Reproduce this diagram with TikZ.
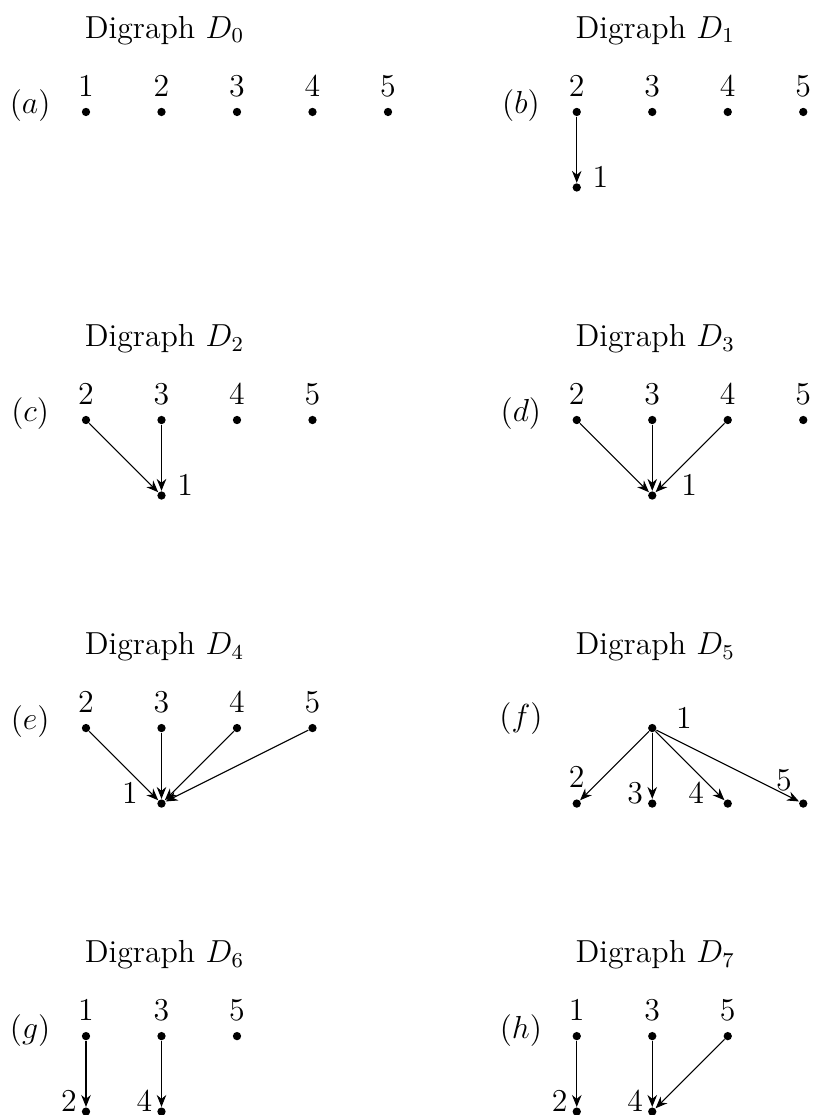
\documentclass[tikz,border=0pt,12pt]{standalone}
\usetikzlibrary{arrows.meta}
\begin{document}
\begin{tikzpicture}[
        vert/.style={circle, fill, inner sep=0pt, minimum size=0.11cm},
        up/.style={label={above:$#1$}},
        rt/.style 2 args={label={[anchor=base west, label distance=#2]right:$#1$}},
        lf/.style 2 args={label={[anchor=base east, label distance=#2]left:$#1$}},
        upl/.style={label={[label distance=-1pt]100:$#1$}},
        arc/.style={draw, -{Stealth[length=4.5pt, width=3.6pt]}},
        title/.style={anchor=center},
        tag/.style={anchor=center},
    ]
    \useasboundingbox (-1.139,-13.285) rectangle (9.642,1.483);

    % (a) digraph D_0
    \node[title] (ta) at (1.04,1.08) {Digraph $D_0$};
    \node[tag] (la) at (-0.74,0.08) {$(a)$};
    \node[vert, up=1] (a1) at (0,0) {};
    \node[vert, up=2] (a2) at (1,0) {};
    \node[vert, up=3] (a3) at (2,0) {};
    \node[vert, up=4] (a4) at (3,0) {};
    \node[vert, up=5] (a5) at (4,0) {};

    % (b) digraph D_1
    \node[title] (tb) at (7.54,1.08) {Digraph $D_1$};
    \node[tag] (lb) at (5.76,0.08) {$(b)$};
    \node[vert, up=2] (b2) at (6.5,0) {};
    \node[vert, up=3] (b3) at (7.5,0) {};
    \node[vert, up=4] (b4) at (8.5,0) {};
    \node[vert, up=5] (b5) at (9.5,0) {};
    \node[vert, rt={1}{0pt}] (b1) at (6.5,-1) {};
    \draw[arc] (b2) -- (b1);

    % (c) digraph D_2
    \node[title] (tc) at (1.04,-3.0) {Digraph $D_2$};
    \node[tag] (lc) at (-0.74,-4.0) {$(c)$};
    \node[vert, up=2] (c2) at (0,-4.08) {};
    \node[vert, up=3] (c3) at (1,-4.08) {};
    \node[vert, up=4] (c4) at (2,-4.08) {};
    \node[vert, up=5] (c5) at (3,-4.08) {};
    \node[vert, rt={1}{0pt}] (c1) at (1,-5.08) {};
    \draw[arc] (c2) -- (c1);
    \draw[arc] (c3) -- (c1);

    % (d) digraph D_3
    \node[title] (td) at (7.54,-3.0) {Digraph $D_3$};
    \node[tag] (ld) at (5.76,-4.0) {$(d)$};
    \node[vert, up=2] (d2) at (6.5,-4.08) {};
    \node[vert, up=3] (d3) at (7.5,-4.08) {};
    \node[vert, up=4] (d4) at (8.5,-4.08) {};
    \node[vert, up=5] (d5) at (9.5,-4.08) {};
    \node[vert, rt={1}{5pt}] (d1) at (7.5,-5.08) {};
    \draw[arc] (d2) -- (d1);
    \draw[arc] (d3) -- (d1);
    \draw[arc] (d4) -- (d1);

    % (e) digraph D_4
    \node[title] (te) at (1.04,-7.08) {Digraph $D_4$};
    \node[tag] (le) at (-0.74,-8.08) {$(e)$};
    \node[vert, up=2] (e2) at (0,-8.16) {};
    \node[vert, up=3] (e3) at (1,-8.16) {};
    \node[vert, up=4] (e4) at (2,-8.16) {};
    \node[vert, up=5] (e5) at (3,-8.16) {};
    \node[vert, lf={1}{3pt}] (e1) at (1,-9.16) {};
    \draw[arc] (e2) -- (e1);
    \draw[arc] (e3) -- (e1);
    \draw[arc] (e4) -- (e1);
    \draw[arc] (e5) -- (e1);

    % (f) digraph D_5
    \node[title] (tf) at (7.54,-7.08) {Digraph $D_5$};
    \node[tag] (lf) at (5.76,-8.03) {$(f)$};
    \node[vert, rt={1}{3pt}] (f1) at (7.5,-8.16) {};
    \node[vert, up=2] (f2) at (6.5,-9.16) {};
    \node[vert, lf={3}{-2.5pt}] (f3) at (7.5,-9.16) {};
    \node[vert, lf={4}{3pt}] (f4) at (8.5,-9.16) {};
    \node[vert, upl=5] (f5) at (9.5,-9.16) {};
    \draw[arc] (f1) -- (f2);
    \draw[arc] (f1) -- (f3);
    \draw[arc] (f1) -- (f4);
    \draw[arc] (f1) -- (f5);

    % (g) digraph D_6
    \node[title] (tg) at (1.04,-11.16) {Digraph $D_6$};
    \node[tag] (lg) at (-0.74,-12.16) {$(g)$};
    \node[vert, up=1] (g1) at (0,-12.24) {};
    \node[vert, up=3] (g3) at (1,-12.24) {};
    \node[vert, up=5] (g5) at (2,-12.24) {};
    \node[vert, lf={2}{-2.5pt}] (g2) at (0,-13.24) {};
    \node[vert, lf={4}{-2.5pt}] (g4) at (1,-13.24) {};
    \draw[arc] (g1) -- (g2);
    \draw[arc] (g3) -- (g4);

    % (h) digraph D_7
    \node[title] (th) at (7.54,-11.16) {Digraph $D_7$};
    \node[tag] (lh) at (5.76,-12.16) {$(h)$};
    \node[vert, up=1] (h1) at (6.5,-12.24) {};
    \node[vert, up=3] (h3) at (7.5,-12.24) {};
    \node[vert, up=5] (h5) at (8.5,-12.24) {};
    \node[vert, lf={2}{-2.5pt}] (h2) at (6.5,-13.24) {};
    \node[vert, lf={4}{-2.5pt}] (h4) at (7.5,-13.24) {};
    \draw[arc] (h1) -- (h2);
    \draw[arc] (h3) -- (h4);
    \draw[arc] (h5) -- (h4);
\end{tikzpicture}
\end{document}
